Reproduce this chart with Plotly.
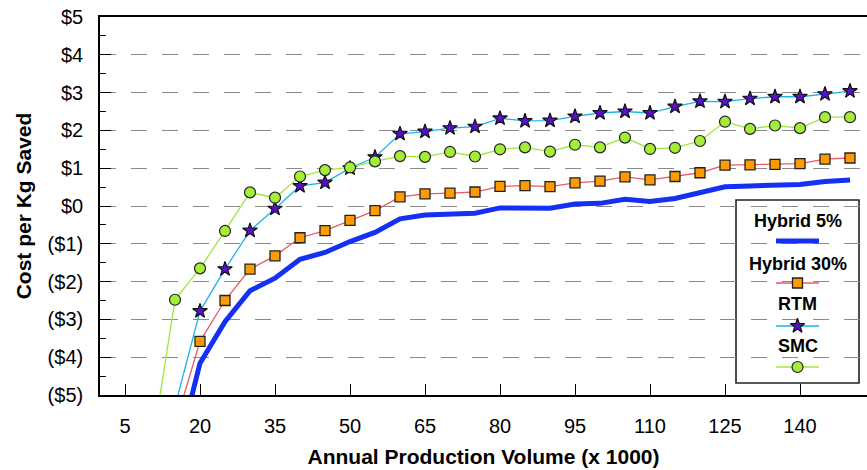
import plotly.graph_objects as go

# ---------------- data ----------------
volumes = [5, 10, 15, 20, 25, 30, 35, 40, 45, 50, 55, 60, 65, 70, 75,
           80, 85, 90, 95, 100, 105, 110, 115, 120, 125, 130, 135, 140, 145, 150]

hybrid5 = [-15.0, -10.0, -6.8, -4.16, -3.06, -2.24, -1.91, -1.41, -1.23, -0.94,
           -0.70, -0.34, -0.24, -0.21, -0.19, -0.05, -0.04, -0.06, 0.05, 0.07,
           0.18, 0.12, 0.20, 0.34, 0.51, 0.53, 0.55, 0.57, 0.65, 0.69]

hybrid30 = [-13.0, -9.0, -5.8, -3.58, -2.50, -1.67, -1.32, -0.84, -0.65, -0.38,
            -0.12, 0.24, 0.32, 0.34, 0.37, 0.52, 0.54, 0.51, 0.61, 0.66,
            0.77, 0.69, 0.78, 0.88, 1.08, 1.09, 1.10, 1.12, 1.24, 1.27]

rtm = [-12.0, -8.5, -5.3, -2.78, -1.67, -0.65, -0.07, 0.53, 0.62, 1.00,
       1.29, 1.91, 1.97, 2.06, 2.10, 2.32, 2.25, 2.26, 2.37, 2.46,
       2.50, 2.46, 2.63, 2.77, 2.76, 2.84, 2.89, 2.89, 2.96, 3.04]

smc = [-9.0, -6.7, -2.48, -1.65, -0.66, 0.36, 0.22, 0.78, 0.95, 1.02,
       1.18, 1.32, 1.30, 1.43, 1.31, 1.50, 1.55, 1.44, 1.62, 1.55,
       1.81, 1.51, 1.54, 1.72, 2.23, 2.04, 2.13, 2.06, 2.35, 2.35]

series_names = ["Hybrid 5%", "Hybrid 30%", "RTM", "SMC"]

x_tick_values = [5, 20, 35, 50, 65, 80, 95, 110, 125, 140]
y_tick_values = [-5, -4, -3, -2, -1, 0, 1, 2, 3, 4, 5]
y_tick_labels = ["($5)", "($4)", "($3)", "($2)", "($1)", "$0", "$1", "$2", "$3", "$4", "$5"]

# ---------------- styles ----------------
BLUE = "#1430f2"
RED_LINE = "#e85c64"
ORANGE = "#ff9a00"
SKY = "#1cb2f0"
PURPLE = "#5a10d4"
GREEN = "#a4ee3a"
FONT = "Liberation Sans, Arial, sans-serif"

styles = {
    "Hybrid 5%": dict(line=dict(color=BLUE, width=5), mode="lines", marker=None),
    "Hybrid 30%": dict(line=dict(color=RED_LINE, width=1.3), mode="lines+markers",
                       marker=dict(symbol="square", size=10, color=ORANGE,
                                   line=dict(color="#222", width=1.3))),
    "RTM": dict(line=dict(color=SKY, width=1.3), mode="lines+markers",
                marker=dict(symbol="star", size=11, color=PURPLE,
                            line=dict(color="#111", width=1.2))),
    "SMC": dict(line=dict(color="#9fe83a", width=1.3), mode="lines+markers",
                marker=dict(symbol="circle", size=11, color=GREEN,
                            line=dict(color="#222", width=1.2))),
}

fig = go.Figure()
for name, vals in zip(series_names, [hybrid5, hybrid30, rtm, smc]):
    st = styles[name]
    kw = dict(x=volumes, y=vals, name=name, mode=st["mode"], line=st["line"],
              showlegend=False)
    if st["marker"] is not None:
        kw["marker"] = st["marker"]
    fig.add_trace(go.Scatter(**kw))

# ---------------- custom legend (box, labels, key glyphs) ----------------
L, R, T, B = 100, 867, 17, 395
box = dict(x0=736, x1=859, y0=200, y1=383)
key_x0, key_x1 = 776, 819
key_cx = (key_x0 + key_x1) / 2
legend_rows = [("Hybrid 5%", 221, 241), ("Hybrid 30%", 264, 283),
               ("RTM", 304, 326), ("SMC", 346, 367)]

def px_x(p):
    return (p - L) / (R - L)

def px_y(p):
    return (B - p) / (B - T)

fig.add_shape(type="rect", xref="paper", yref="paper",
              x0=px_x(box["x0"]), x1=px_x(box["x1"]),
              y0=px_y(box["y1"]), y1=px_y(box["y0"]),
              line=dict(color="#222", width=1.6), fillcolor="white", layer="between")

for name, ty, ky in legend_rows:
    fig.add_annotation(text=name, xref="paper", yref="paper",
                       x=px_x(key_cx), y=px_y(ty), showarrow=False,
                       xanchor="center", yanchor="middle",
                       font=dict(family=FONT, size=18, color="black", weight="bold"))
    st = styles[name]
    fig.add_trace(go.Scatter(x=[key_x0, key_x1], y=[ky, ky], mode="lines",
                             line=st["line"], xaxis="x2", yaxis="y2",
                             showlegend=False, hoverinfo="skip"))
    if st["marker"] is not None:
        fig.add_trace(go.Scatter(x=[key_cx], y=[ky], mode="markers",
                                 marker=st["marker"], xaxis="x2", yaxis="y2",
                                 showlegend=False, hoverinfo="skip"))

fig.update_layout(
    width=867, height=470,
    margin=dict(l=L, r=867 - R, t=T, b=470 - B),
    paper_bgcolor="white", plot_bgcolor="white",
    font=dict(family=FONT, size=20, color="black"),
    xaxis=dict(
        range=[0, 153.4], tickvals=x_tick_values,
        ticks="inside", ticklen=11, tickwidth=1.3, tickcolor="black",
        showline=True, linecolor="black", linewidth=1.6, mirror=True,
        showgrid=False, zeroline=False,
        tickfont=dict(family=FONT, size=20, color="black"),
        ticklabelstandoff=12,
        title=dict(text="Annual Production Volume (x 1000)", standoff=14,
                   font=dict(family=FONT, size=21, color="black", weight="bold")),
    ),
    yaxis=dict(
        range=[-5, 5], tickvals=y_tick_values, ticktext=y_tick_labels,
        ticks="inside", ticklen=11, tickwidth=1.3, tickcolor="black",
        minor=dict(ticks="inside", ticklen=6, tickwidth=1.3, tickcolor="black",
                   dtick=0.5, tick0=0, showgrid=False),
        showline=True, linecolor="black", linewidth=1.6,
        showgrid=True, gridcolor="#8a8a8a", gridwidth=1.4, griddash="16px,15px",
        zeroline=False,
        tickfont=dict(family=FONT, size=20, color="black"),
        ticklabelstandoff=11,
        title=dict(text="Cost per Kg Saved", standoff=10,
                   font=dict(family=FONT, size=21, color="black", weight="bold")),
    ),
    xaxis2=dict(range=[L, R], domain=[0, 1], overlaying="x", visible=False,
                fixedrange=True),
    yaxis2=dict(range=[B, T], domain=[0, 1], overlaying="y", visible=False,
                fixedrange=True),
)

fig.write_html("out.html")
